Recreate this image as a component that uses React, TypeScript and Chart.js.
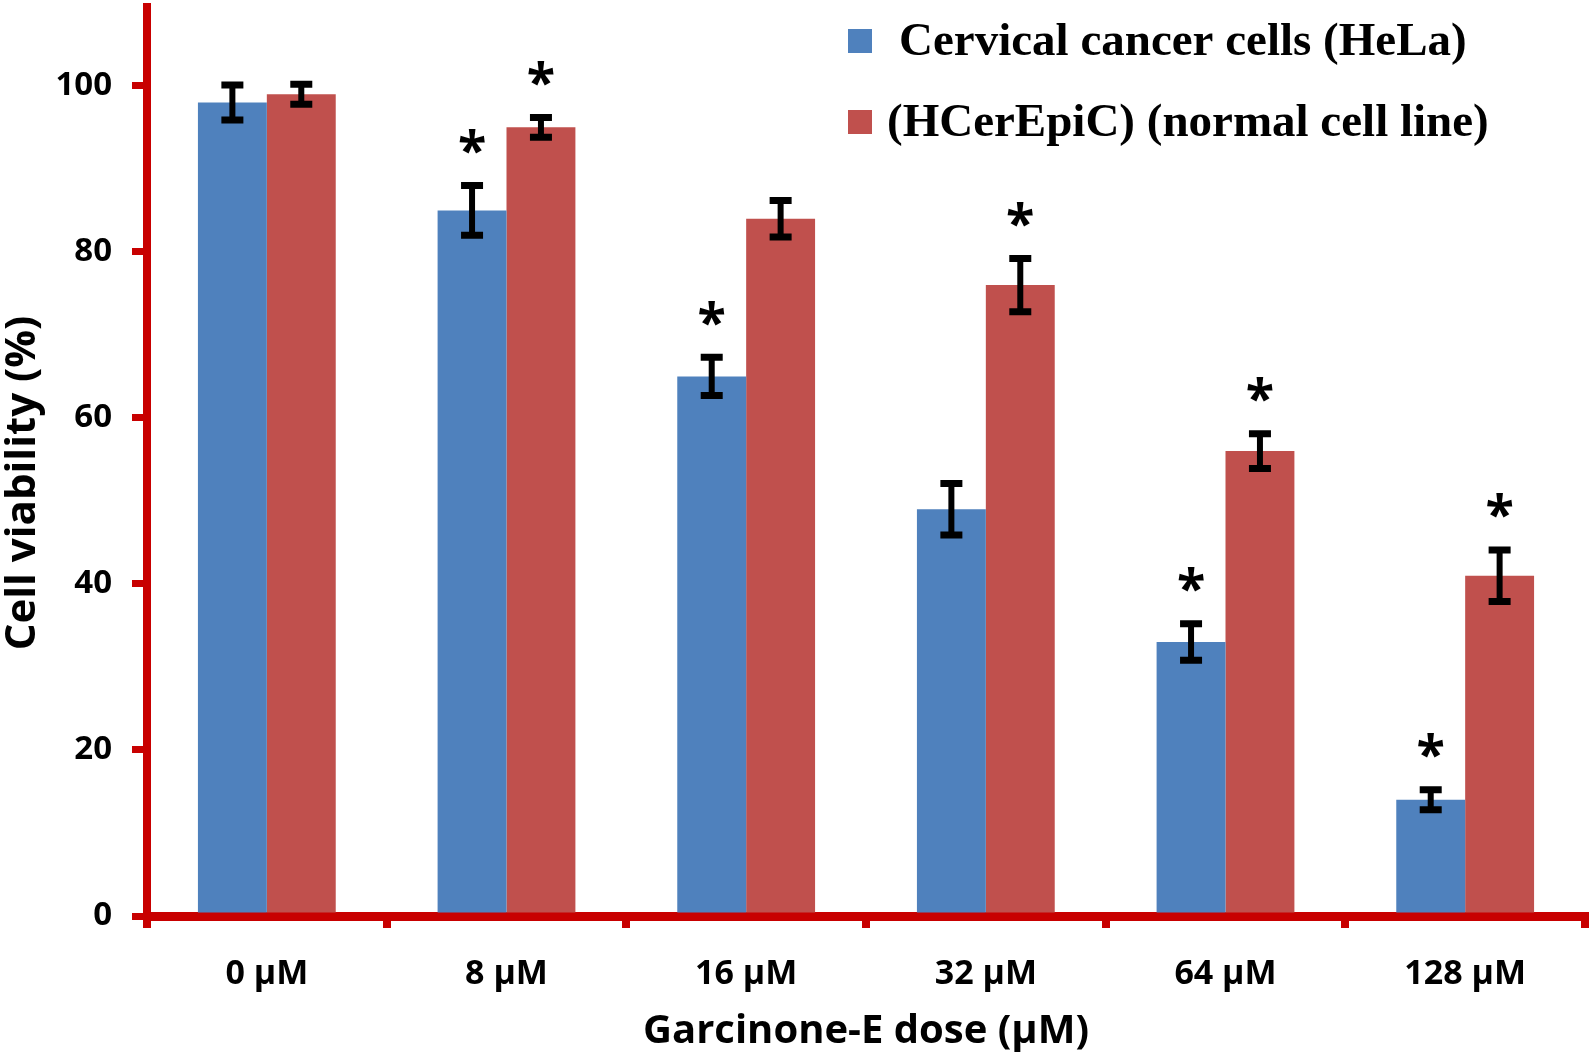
import React, { useEffect, useRef } from "react";
import { Chart, registerables } from "chart.js";

Chart.register(...registerables);

const doses = ["0 µM", "8 µM", "16 µM", "32 µM", "64 µM", "128 µM"];
const helaValues = [98, 85, 65, 49, 33, 14];
const helaErrors = [2.1, 3.0, 2.3, 3.1, 2.2, 1.2];
const normalValues = [99, 95, 84, 76, 56, 41];
const normalErrors = [1.2, 1.2, 2.2, 3.2, 2.1, 3.1];
const helaSignificant = [false, true, true, false, true, true];
const normalSignificant = [false, true, false, true, true, true];
const yTickValues = [0, 20, 40, 60, 80, 100];
const seriesNames = ["Cervical cancer cells (HeLa)", "(HCerEpiC) (normal cell line)"];
const xTitle = "Garcinone-E dose (µM)";
const yTitle = "Cell viability (%)";

const BLUE = "#4F81BD";
const RED = "#C0504D";
const AXIS_RED = "#C80000";
const SANS = "'Open Sans', sans-serif";
const SERIF = "'Liberation Serif', 'DejaVu Serif', serif";

const errorsBySeries = [helaErrors, normalErrors];
const sigBySeries = [helaSignificant, normalSignificant];

const errorBarPlugin = {
  id: "errorBars",
  afterDatasetsDraw(chart: any) {
    const ctx = chart.ctx;
    const yScale = chart.scales.y;
    ctx.save();
    chart.data.datasets.forEach((ds: any, i: number) => {
      const meta = chart.getDatasetMeta(i);
      meta.data.forEach((bar: any, j: number) => {
        const v = ds.data[j];
        const e = errorsBySeries[i][j];
        const x = bar.x;
        const yTop = yScale.getPixelForValue(v + e);
        const yBot = yScale.getPixelForValue(v - e);
        ctx.strokeStyle = "#000";
        ctx.lineCap = "butt";
        ctx.lineWidth = 6;
        ctx.beginPath();
        ctx.moveTo(x, yTop);
        ctx.lineTo(x, yBot);
        ctx.stroke();
        ctx.lineWidth = 7;
        ctx.beginPath();
        ctx.moveTo(x - 11, yTop);
        ctx.lineTo(x + 11, yTop);
        ctx.moveTo(x - 11, yBot);
        ctx.lineTo(x + 11, yBot);
        ctx.stroke();
        if (sigBySeries[i][j]) {
          ctx.fillStyle = "#000";
          ctx.font = `bold 52px 'Open Sans', sans-serif`;
          ctx.textAlign = "center";
          ctx.textBaseline = "alphabetic";
          const m = ctx.measureText("*");
          const cy = yTop - 44;
          const base = cy - (m.actualBoundingBoxDescent - m.actualBoundingBoxAscent) / 2;
          ctx.fillText("*", x, base);
        }
      });
    });
    ctx.restore();
  },
};

const legendPlugin = {
  id: "customLegend",
  afterDraw(chart: any) {
    const ctx = chart.ctx;
    ctx.save();
    const colors = [BLUE, RED];
    const rows = [41, 122];
    const textX = [899, 887];
    seriesNames.forEach((name, i) => {
      ctx.fillStyle = colors[i];
      ctx.fillRect(848, rows[i] - 12, 24, 24);
      ctx.fillStyle = "#000";
      ctx.font = `bold 47px ${SERIF}`;
      ctx.textAlign = "left";
      ctx.textBaseline = "middle";
      ctx.fillText(name, textX[i], rows[i] + 2);
    });
    // y-axis title
    ctx.translate(23, 483);
    ctx.rotate(-Math.PI / 2);
    ctx.fillStyle = "#000";
    ctx.font = `bold 42px ${SANS}`;
    ctx.textAlign = "center";
    ctx.textBaseline = "middle";
    ctx.fillText(yTitle, 0, 0);
    ctx.restore();
  },
};

export default function App() {
  const canvasRef = useRef<HTMLCanvasElement | null>(null);

  useEffect(() => {
    if (!canvasRef.current) return;
    const chart = new Chart(canvasRef.current, {
      type: "bar",
      data: {
        labels: doses,
        datasets: [
          {
            label: seriesNames[0],
            data: helaValues,
            backgroundColor: BLUE,
            barPercentage: 1,
            categoryPercentage: 0.575,
          },
          {
            label: seriesNames[1],
            data: normalValues,
            backgroundColor: RED,
            barPercentage: 1,
            categoryPercentage: 0.575,
          },
        ],
      },
      options: {
        responsive: false,
        animation: false,
        layout: { padding: { top: 7, right: 9, left: 0, bottom: 0 } },
        plugins: {
          legend: { display: false },
          tooltip: { enabled: false },
        },
        scales: {
          x: {
            grid: {
              display: true,
              offset: true,
              drawOnChartArea: false,
              drawTicks: true,
              tickLength: 12,
              color: AXIS_RED,
              lineWidth: 8,
            },
            border: { display: true, color: AXIS_RED, width: 9 },
            ticks: {
              color: "#000",
              font: { family: SANS, size: 34, weight: "bold" },
              padding: 26,
              maxRotation: 0,
            },
            title: {
              display: true,
              text: xTitle,
              color: "#000",
              font: { family: SANS, size: 40, weight: "bold" },
              padding: { top: 0, bottom: 4 },
            },
            afterFit(scale: any) {
              scale.height = 144;
              scale.paddingLeft = 0;
              scale.paddingRight = 0;
              scale.paddingTop = 0;
              scale.paddingBottom = 0;
            },
          },
          y: {
            min: 0,
            max: 109.5,
            afterBuildTicks(scale: any) {
              scale.ticks = yTickValues.map((v) => ({ value: v }));
            },
            grid: {
              display: true,
              drawOnChartArea: false,
              drawTicks: true,
              tickLength: 15,
              color: AXIS_RED,
              lineWidth: 7,
            },
            border: { display: true, color: AXIS_RED, width: 8 },
            ticks: {
              color: "#000",
              font: { family: SANS, size: 33, weight: "bold" },
              padding: 20,
            },
            title: { display: false },
            afterFit(scale: any) {
              scale.width = 147;
              scale.paddingTop = 0;
              scale.paddingBottom = 0;
              scale.paddingLeft = 0;
              scale.paddingRight = 0;
            },
          },
        },
      },
      plugins: [errorBarPlugin, legendPlugin],
    });
    return () => chart.destroy();
  }, []);

  return (
    <div style={{ position: "fixed", left: 0, top: 0, width: 1594, height: 1060, background: "#fff" }}>
      <canvas ref={canvasRef} width={1594} height={1060} style={{ display: "block" }} />
    </div>
  );
}
